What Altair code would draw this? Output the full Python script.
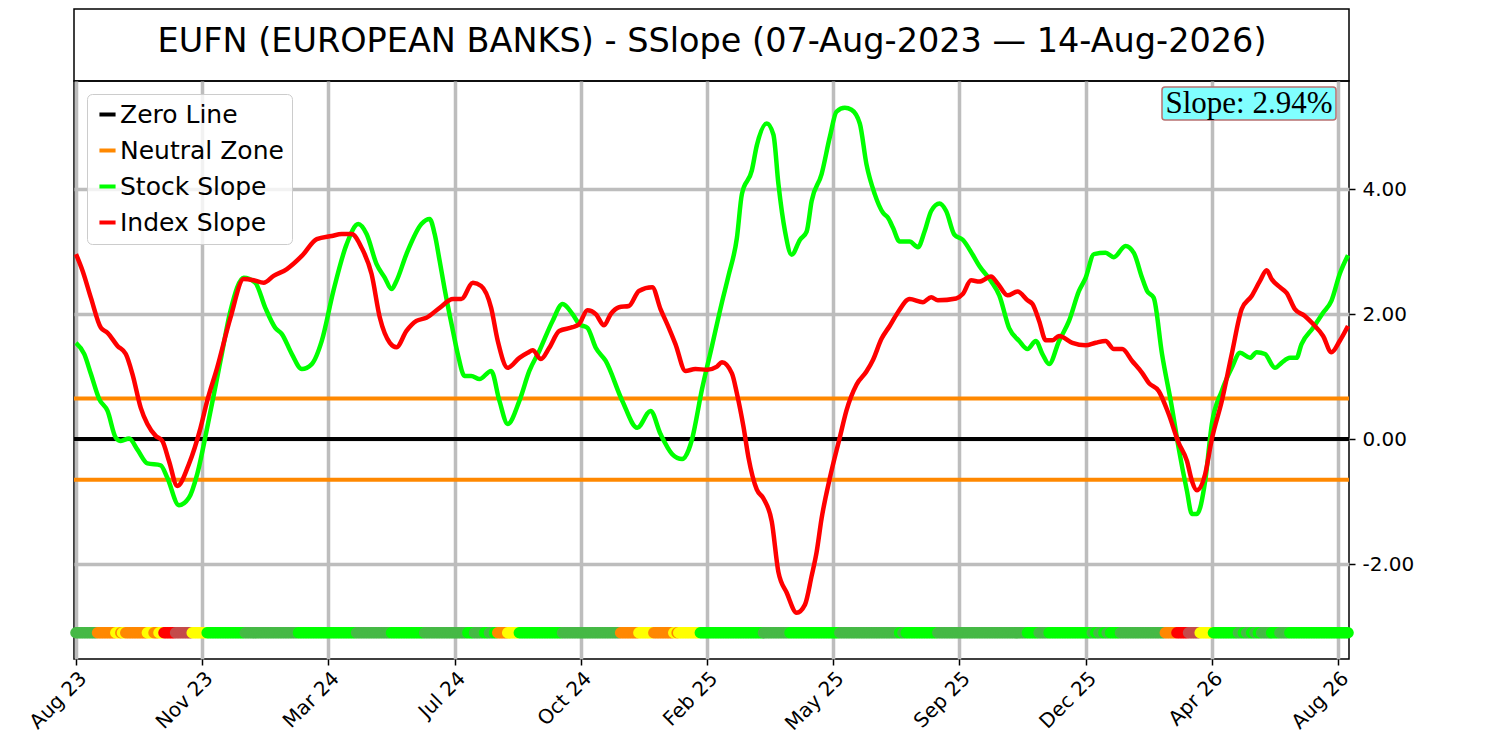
import altair as alt
import pandas as pd

TITLE = "EUFN (EUROPEAN BANKS) - SSlope (07-Aug-2023 \u2014 14-Aug-2026)"

TICK_POS = [0, 76, 152, 228, 304, 380, 456, 532, 608, 684, 760]
TICK_LABELS = ["Aug 23", "Nov 23", "Mar 24", "Jul 24", "Oct 24", "Feb 25",
               "May 25", "Sep 25", "Dec 25", "Apr 26", "Aug 26"]
Y_TICKS = [-2, 0, 2, 4]

STOCK_BAR = [0, 5, 9, 14, 19, 24, 27, 32, 37, 43, 51, 55, 62, 68, 73, 79, 87, 93, 101, 108,
             114, 120, 124, 130, 136, 142, 148, 155, 163, 170, 175, 181, 186, 190, 193, 199, 208, 213, 216, 219,
             222, 227, 230, 234, 238, 243, 250, 255, 260, 267, 273, 279, 287, 293, 299, 303, 308, 313, 319, 329,
             338, 346, 352, 359, 365, 369, 371, 377, 383, 389, 393, 398, 401, 407, 410, 416, 420, 423, 427, 431,
             436, 440, 443, 449, 454, 458, 463, 467, 472, 476, 481, 486, 489, 492, 496, 502, 507, 511, 515, 520,
             524, 529, 534, 540, 544, 551, 556, 562, 568, 573, 578, 582, 586, 592, 598, 604, 608, 613, 620, 625,
             632, 637, 642, 645, 649, 654, 660, 664, 669, 672, 675, 680, 684, 690, 696, 701, 707, 711, 716, 722,
             726, 731, 735, 738, 745, 751, 756, 761, 766]
STOCK_VAL = [1.54, 1.36, 1.04, 0.64, 0.45, 0.02, -0.03, 0.01, -0.17, -0.39, -0.42, -0.62, -1.06, -0.94, -0.56, 0.18, 1.25, 2.05, 2.58, 2.50,
             2.10, 1.78, 1.68, 1.36, 1.12, 1.20, 1.57, 2.37, 3.12, 3.44, 3.28, 2.80, 2.58, 2.40, 2.53, 2.96, 3.44, 3.52, 3.28, 2.85,
             2.40, 1.73, 1.35, 1.01, 1.01, 0.96, 1.09, 0.61, 0.24, 0.61, 1.09, 1.41, 1.89, 2.16, 2.00, 1.84, 1.78, 1.46, 1.25, 0.61,
             0.18, 0.45, 0.08, -0.24, -0.32, -0.17, 0.00, 0.80, 1.49, 2.19, 2.62, 3.22, 3.92, 4.30, 4.70, 5.05, 4.87, 4.08, 3.32, 2.95,
             3.19, 3.32, 3.81, 4.24, 4.84, 5.24, 5.30, 5.27, 5.05, 4.40, 3.92, 3.62, 3.54, 3.38, 3.16, 3.16, 3.07, 3.32, 3.65, 3.77,
             3.65, 3.27, 3.19, 2.95, 2.77, 2.53, 2.30, 1.77, 1.57, 1.44, 1.57, 1.36, 1.20, 1.57, 1.89, 2.37, 2.58, 2.96, 2.98, 2.91,
             3.09, 2.98, 2.58, 2.37, 2.26, 1.36, 0.50, -0.14, -0.83, -1.20, -1.20, -0.67, 0.24, 0.77, 1.14, 1.38, 1.30, 1.39, 1.36, 1.14,
             1.22, 1.30, 1.30, 1.52, 1.78, 2.02, 2.21, 2.64, 2.94]

INDEX_BAR = [0, 4, 9, 15, 19, 25, 30, 34, 39, 43, 48, 52, 56, 61, 68, 75, 79, 85, 93, 101,
             107, 113, 119, 127, 136, 145, 154, 160, 166, 172, 178, 183, 189, 193, 199, 205, 211, 219, 227, 232,
             239, 244, 250, 254, 260, 267, 272, 275, 280, 285, 291, 299, 303, 308, 313, 318, 322, 327, 333, 339,
             347, 352, 357, 361, 367, 373, 380, 386, 389, 395, 398, 402, 405, 410, 414, 419, 423, 428, 434, 439,
             443, 446, 449, 454, 460, 464, 470, 476, 480, 485, 490, 495, 502, 510, 515, 519, 530, 534, 539, 544,
             551, 555, 561, 567, 573, 576, 580, 584, 588, 592, 600, 608, 614, 620, 625, 630, 636, 642, 646, 652,
             658, 664, 669, 672, 675, 680, 684, 690, 696, 702, 708, 713, 717, 720, 725, 729, 734, 740, 745, 751,
             756, 761, 766]
INDEX_VAL = [2.96, 2.69, 2.26, 1.78, 1.70, 1.49, 1.36, 1.04, 0.50, 0.24, 0.05, -0.03, -0.35, -0.75, -0.40, 0.18, 0.61, 1.14, 1.94, 2.56,
             2.54, 2.50, 2.61, 2.72, 2.93, 3.20, 3.25, 3.28, 3.28, 3.06, 2.64, 1.94, 1.54, 1.47, 1.73, 1.89, 1.94, 2.10, 2.24, 2.24,
             2.50, 2.45, 2.10, 1.57, 1.14, 1.30, 1.38, 1.42, 1.28, 1.46, 1.73, 1.79, 1.84, 2.06, 2.00, 1.82, 2.00, 2.11, 2.13, 2.37,
             2.43, 2.08, 1.78, 1.52, 1.09, 1.12, 1.11, 1.16, 1.23, 1.05, 0.73, 0.19, -0.30, -0.81, -0.95, -1.32, -2.13, -2.46, -2.78, -2.65,
             -2.19, -1.81, -1.27, -0.62, 0.03, 0.46, 0.87, 1.08, 1.27, 1.60, 1.81, 2.03, 2.24, 2.19, 2.27, 2.22, 2.25, 2.32, 2.54, 2.52,
             2.60, 2.49, 2.30, 2.36, 2.22, 2.16, 1.89, 1.58, 1.58, 1.65, 1.54, 1.50, 1.54, 1.57, 1.44, 1.44, 1.25, 1.06, 0.90, 0.77,
             0.40, -0.06, -0.35, -0.67, -0.82, -0.56, 0.00, 0.61, 1.36, 2.08, 2.29, 2.53, 2.70, 2.56, 2.43, 2.34, 2.08, 1.97, 1.84, 1.65,
             1.39, 1.57, 1.81]

ZERO_LEVEL = 0.0
NEUTRAL_LEVEL = 0.65

# state strip (run-length: start bar, end bar exclusive, state)
STRIP_START = [0, 13, 24, 27, 28, 30, 43, 47, 50, 53, 60, 70, 79, 102, 134, 169, 190, 210, 236, 240,
               246, 249, 252, 254, 260, 267, 293, 328, 339, 348, 360, 362, 363, 376, 414, 430, 460, 496, 498, 500,
               519, 573, 580, 586, 612, 614, 616, 619, 621, 623, 629, 656, 663, 670, 677, 685, 700, 703, 705, 708,
               710, 712, 714, 720, 725, 731]
STRIP_END = STRIP_START[1:] + [767]
STRIP_STATE = ["dg", "or", "ye", "or", "ye", "or", "ye", "or", "ye", "rd", "br", "ye", "li", "dg", "li", "dg", "li", "dg", "li", "dg",
               "li", "dg", "li", "or", "ye", "li", "dg", "or", "ye", "or", "ye", "or", "ye", "li", "dg", "li", "dg", "li", "dg", "li",
               "dg", "li", "dg", "li", "dg", "li", "dg", "li", "dg", "li", "dg", "or", "rd", "br", "ye", "li", "dg", "li", "dg", "li",
               "dg", "li", "dg", "li", "dg", "li"]
STRIP_LEVEL = -3.10
STATE_COLORS = {"li": "#00ff00", "dg": "#46b946", "or": "#ff8800", "ye": "#ffff00",
                "rd": "#ff0000", "br": "#c44b4b"}

SERIES = ["Zero Line", "Neutral Zone", "Stock Slope", "Index Slope"]
SERIES_COLORS = ["#000000", "#ff8800", "#00ff00", "#ff0000"]

# ---------------- data frames ----------------
levels = pd.DataFrame({"value": [ZERO_LEVEL, NEUTRAL_LEVEL, -NEUTRAL_LEVEL],
                       "series": ["Zero Line", "Neutral Zone", "Neutral Zone"]})
stock = pd.DataFrame({"bar": STOCK_BAR, "value": STOCK_VAL, "series": "Stock Slope"})
index = pd.DataFrame({"bar": INDEX_BAR, "value": INDEX_VAL, "series": "Index Slope"})
strip_rows = []
for s, e, st in zip(STRIP_START, STRIP_END, STRIP_STATE):
    for b in range(s, e):
        strip_rows.append({"bar": b, "value": STRIP_LEVEL, "col": STATE_COLORS[st]})
strip = pd.DataFrame(strip_rows)

W, H = 1275, 578
GRID = "#bdbdbd"

label_list = "[" + ",".join("'%s'" % t for t in TICK_LABELS) + "]"
x_enc = alt.X("bar:Q",
              scale=alt.Scale(domain=[-1.2, 766.6], nice=False, zero=False),
              axis=alt.Axis(values=TICK_POS, labelExpr=label_list + "[round(datum.value/76)]",
                            labelAngle=315, labelAlign="right", labelBaseline="top",
                            labelFontSize=20, labelFont="DejaVu Sans", labelColor="black",
                            labelPadding=3, labelFlush=False, labelOverlap=False,
                            grid=True, gridColor=GRID, gridWidth=3.5,
                            tickSize=6, tickWidth=1.5, tickColor="black",
                            domain=False, title=None))
y_enc = alt.Y("value:Q",
              scale=alt.Scale(domain=[-3.52, 5.73], nice=False, zero=False),
              axis=alt.Axis(orient="right", values=Y_TICKS,
                            labelExpr="datum.value < 0 ? '-' + format(-datum.value, '.2f') : format(datum.value, '.2f')",
                            labelFontSize=20, labelFont="DejaVu Sans", labelColor="black",
                            labelPadding=7, labelFlush=False,
                            grid=True, gridColor=GRID, gridWidth=3.5,
                            tickSize=6, tickWidth=1.5, tickColor="black",
                            domain=False, title=None))
legend = alt.Legend(title=None, orient="top-left", offset=13, symbolType="stroke",
                    symbolStrokeWidth=4, symbolSize=260, labelFontSize=25, labelLimit=0,
                    labelFont="DejaVu Sans", labelColor="black", padding=8,
                    fillColor="rgba(255,255,255,0.8)", strokeColor="#cccccc",
                    cornerRadius=5, rowPadding=10, labelOffset=0)
color_enc = alt.Color("series:N", scale=alt.Scale(domain=SERIES, range=SERIES_COLORS),
                      legend=legend)

rules = alt.Chart(levels).mark_rule(strokeWidth=4).encode(y=y_enc, color=color_enc)
stock_line = alt.Chart(stock).mark_line(strokeWidth=4.5, interpolate="monotone").encode(
    x=x_enc, y=y_enc, color=color_enc)
index_line = alt.Chart(index).mark_line(strokeWidth=4.5, interpolate="monotone").encode(
    x=x_enc, y=y_enc, color=color_enc)
dots = alt.Chart(strip).mark_circle(size=135, opacity=1).encode(
    x=x_enc, y=y_enc, color=alt.Color("col:N", scale=None))

slope_df = pd.DataFrame({"t": ["Slope: %.2f%%" % STOCK_VAL[-1]]})
slope_box = alt.Chart(slope_df).mark_rect(fill="#80ffff", stroke="#b87070", strokeWidth=1.5,
                                          cornerRadius=3).encode(
    x=alt.value(1088), x2=alt.value(1262), y=alt.value(6), y2=alt.value(39))
slope_txt = alt.Chart(slope_df).mark_text(font="Liberation Serif", fontSize=31,
                                          baseline="alphabetic", align="center",
                                          color="black").encode(
    text="t:N", x=alt.value(1175), y=alt.value(32))

main = alt.layer(rules, stock_line, index_line, dots, slope_box, slope_txt).properties(
    width=W, height=H)

title_chart = alt.Chart(pd.DataFrame({"t": [TITLE]})).mark_text(
    font="DejaVu Sans", fontSize=33.5, baseline="alphabetic", align="center", color="black"
).encode(text="t:N", x=alt.value(638), y=alt.value(43)).properties(width=W, height=72)

chart = alt.vconcat(title_chart, main, spacing=0, bounds="flush").resolve_scale(
    color="independent"
).properties(
    padding={"left": 17, "top": 0, "right": 0, "bottom": 0}
).configure_view(stroke="black", strokeWidth=1.5)

chart.save("out.html", embed_options={"renderer": "svg", "actions": False})
